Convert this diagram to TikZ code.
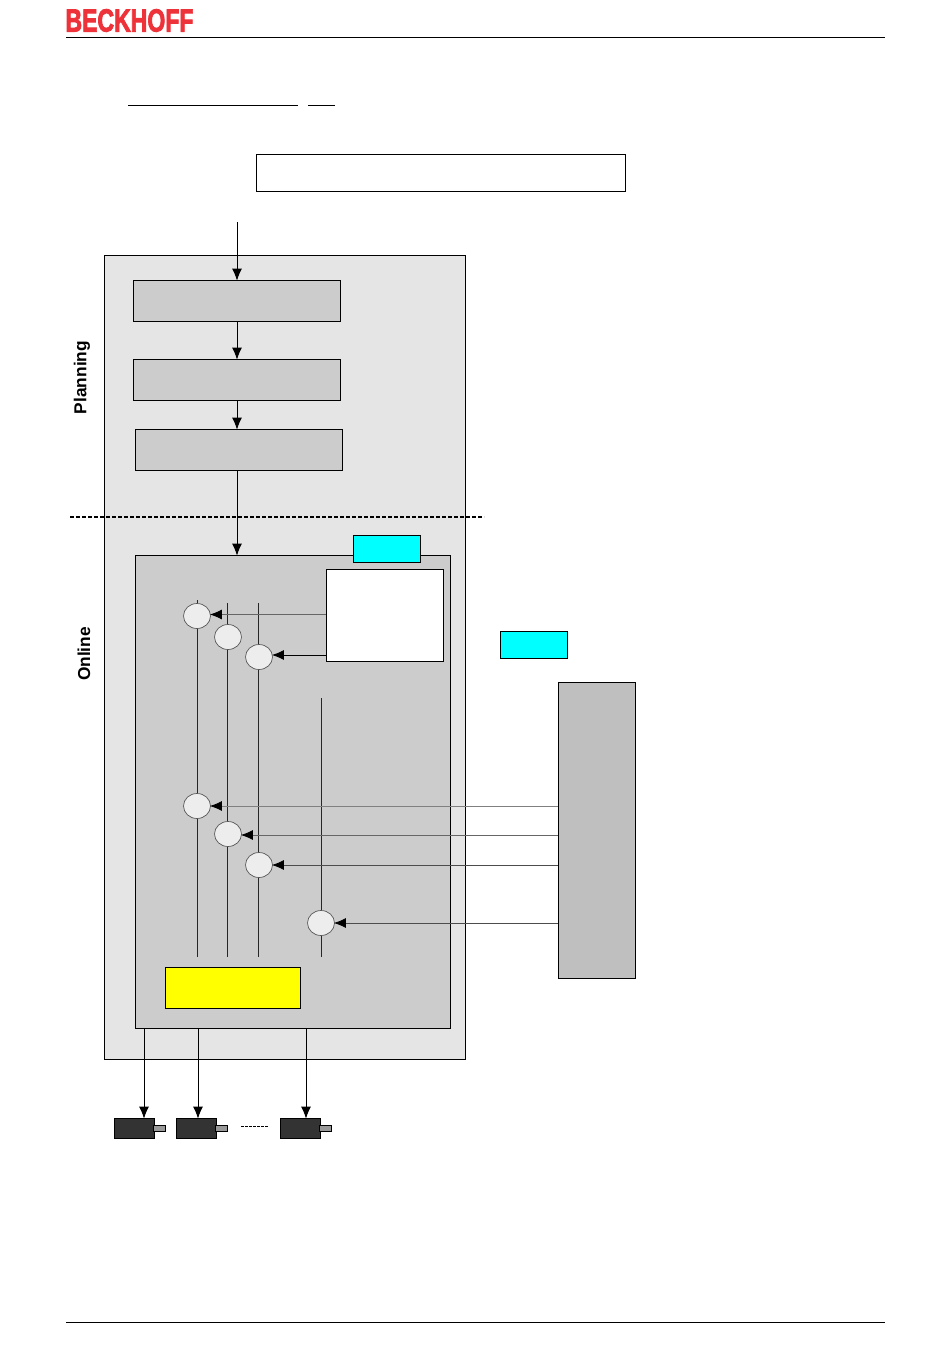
\documentclass[tikz,border=0pt]{standalone}
\usepackage{fontspec}
\setmainfont{Liberation Sans}
\newfontfamily\logofont[BoldFeatures={FakeBold=3}]{Liberation Sans}
\usetikzlibrary{arrows.meta,shapes.geometric}
\definecolor{LogoRed}{RGB}{238, 50, 57}
\definecolor{PanelGray}{RGB}{229, 229, 229}
\definecolor{BlockGray}{RGB}{204, 204, 204}
\definecolor{SideGray}{RGB}{191, 191, 191}
\definecolor{MotorDark}{RGB}{51, 51, 51}
\definecolor{TagCyan}{RGB}{0, 255, 255}
\definecolor{DriveYellow}{RGB}{255, 255, 0}

\begin{document}
\begin{tikzpicture}[x=1pt, y=-1pt, line width=0.9pt,
        block/.style={rectangle, draw, fill=BlockGray, inner sep=0pt, outer sep=0pt},
        panel/.style={block, fill=PanelGray},
        whitebox/.style={block, fill=white},
        cyanbox/.style={block, fill=TagCyan, minimum width=67, minimum height=27},
        stepblock/.style={block, minimum width=207, minimum height=41},
        busnode/.style={ellipse, draw=black!65, fill=black!7, line width=0.7pt, minimum width=27, minimum height=25, inner sep=0pt, outer sep=0pt},
        motor/.style={block, fill=MotorDark, minimum width=40, minimum height=20},
        shaft/.style={block, fill=black!40, minimum width=12, minimum height=6},
        sidelabel/.style={font=\fontsize{17.3}{20}\selectfont\bfseries, rotate=90},
        arrow/.style={-{Latex[black, length=12pt, width=10pt]}, shorten >=-0.6pt},
        busline/.style={line width=1pt, black!85}
    ]
        \useasboundingbox (0,0) rectangle (950,1369);
        % Page header and footer
        \node[font=\logofont\fontsize{32}{34}\selectfont\bfseries, text=LogoRed, xscale=0.72, inner sep=0pt] (logo) at (129.5,20.5) {BECKHOFF};
        \coordinate (headL) at (66,37.5);
        \coordinate (headR) at (885,37.5);
        \coordinate (footL) at (66,1322.5);
        \coordinate (footR) at (885,1322.5);
        \draw (headL) -- (headR);
        \draw (footL) -- (footR);
        % Underlined heading strokes
        \coordinate (ulA) at (128,105);
        \coordinate (ulB) at (298,105);
        \coordinate (ulC) at (308,105);
        \coordinate (ulD) at (335,105);
        \draw (ulA) -- (ulB);
        \draw (ulC) -- (ulD);
        % Title box and outer panel
        \node[whitebox, minimum width=369, minimum height=37] (title) at (440.5,172.5) {};
        \node[panel, minimum width=361, minimum height=804] (outer) at (284.5,657) {};
        % Planning blocks
        \node[stepblock] (planA) at (236.5,300.5) {};
        \node[stepblock] (planB) at (236.5,379.5) {};
        \node[stepblock] (planC) at (238.5,449.5) {};
        \coordinate (entry) at (237,222);
        \draw[arrow] (entry) -- (entry |- planA.north);
        \draw[arrow] (entry |- planA.south) -- (entry |- planB.north);
        \draw[arrow] (entry |- planB.south) -- (entry |- planC.north);
        % Split between planning and online
        \coordinate (splitL) at (70,517);
        \coordinate (splitR) at (484,517);
        \draw[dash pattern=on 4pt off 2pt, line width=1.2pt] (splitL) -- (splitR);
        \node[sidelabel] (planning) at (82,377.5) {Planning};
        \node[sidelabel] (online) at (84,654) {Online};
        % Online block with its inner boxes
        \node[block, minimum width=315, minimum height=473] (inner) at (292.5,791.5) {};
        \draw[arrow] (entry |- planC.south) -- (entry |- inner.north);
        \node[cyanbox] (tagA) at (386.5,548.5) {};
        \node[whitebox, minimum width=117, minimum height=92] (table) at (384.5,615) {};
        \node[cyanbox] (tagB) at (533.5,644.5) {};
        \node[block, fill=SideGray, minimum width=77, minimum height=296] (side) at (596.5,830) {};
        \node[block, fill=DriveYellow, minimum width=135, minimum height=41] (drive) at (232.5,987.5) {};
        % Axis lines
        \foreach \name/\x/\ytop in {busA/197/600, busB/227/603, busC/258/603, busD/321/698} {
            \coordinate (\name top) at (\x,\ytop);
            \coordinate (\name end) at (\x,957);
            \draw[busline] (\name top) -- (\name end);
        }
        % Summing nodes
        \foreach \name/\x/\y in {sumA/197/616, sumB/228/637, sumC/259/657, sumD/197/806, sumE/228/834, sumF/259/865, sumG/321/923} {
            \node[busnode] (\name) at (\x,\y) {};
        }
        % Set values from the table
        \coordinate (inA) at ([yshift=1.5pt]sumA.east);
        \coordinate (inC) at ([yshift=2pt]sumC.east);
        \draw[arrow, line width=0.8pt, black!60] (table.west |- inA) -- (inA);
        \draw[arrow] (table.west |- inC) -- (inC);
        % Set values from the side block
        \coordinate (inE) at ([yshift=-1pt]sumE.east);
        \foreach \pin/\shade in {sumD.east/50, inE/60, sumF.east/70, sumG.east/70} {
            \draw[arrow, line width=0.8pt, black!\shade] (side.west |- \pin) -- (\pin);
        }
        % Motors
        \foreach \i/\x/\xshaft/\xout in {1/134/159.5/144, 2/196/221.5/198, 3/300/325/306} {
            \node[motor] (mot\i) at (\x,1128) {};
            \node[shaft] (shaft\i) at (\xshaft,1128) {};
            \coordinate (out\i) at (\xout,1029);
            \draw[arrow] (out\i) -- (out\i |- mot\i.north);
        }
        \coordinate (gapL) at (241,1126);
        \coordinate (gapR) at (269,1126);
        \draw[dash pattern=on 3pt off 1pt, line width=0.7pt] (gapL) -- (gapR);
\end{tikzpicture}
\end{document}
